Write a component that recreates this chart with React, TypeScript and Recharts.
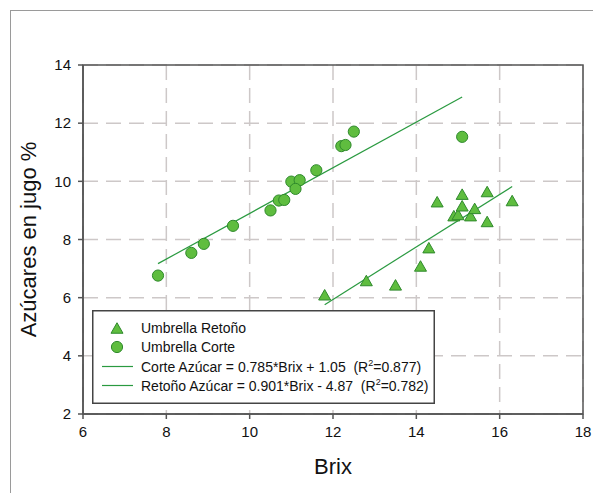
import React from 'react'
import {
  ScatterChart, Scatter, XAxis, YAxis, CartesianGrid, ReferenceLine, ReferenceArea, Legend,
} from 'recharts'

// Umbrella Corte (circles)
const corteBrix = [7.8, 8.6, 8.9, 9.6, 10.5, 10.7, 10.83, 11.0, 11.2, 11.1, 11.6, 12.2, 12.3, 12.5, 15.1]
const corteAzucar = [6.76, 7.54, 7.85, 8.47, 9.0, 9.34, 9.36, 9.99, 10.04, 9.74, 10.38, 11.21, 11.25, 11.71, 11.53]

// Umbrella Retoño (triangles)
const retonoBrix = [11.8, 12.8, 13.5, 14.1, 14.3, 14.5, 14.9, 15.0, 15.1, 15.1, 15.3, 15.4, 15.7, 15.7, 16.3]
const retonoAzucar = [6.1, 6.59, 6.44, 7.09, 7.72, 9.3, 8.82, 8.86, 9.56, 9.16, 8.82, 9.07, 9.65, 8.62, 9.34]

// regression line end points (from the equations in the legend)
const corteFit = [{ x: 7.8, y: 7.17 }, { x: 15.1, y: 12.9 }]
const retonoFit = [{ x: 11.8, y: 5.76 }, { x: 16.3, y: 9.82 }]

const xTicks = [6, 8, 10, 12, 14, 16, 18]
const yTicks = [2, 4, 6, 8, 10, 12, 14]

const corteData = corteBrix.map((x, i) => ({ x, y: corteAzucar[i] }))
const retonoData = retonoBrix.map((x, i) => ({ x, y: retonoAzucar[i] }))

const FONT = '"Liberation Sans", Arial, sans-serif'
const FILL = '#5fbd3f'
const EDGE = '#2f8a2c'
const LINE = '#2a9a40'

const Circle = (props: any) => {
  const { cx, cy } = props
  return <circle cx={cx} cy={cy} r={5.6} fill={FILL} stroke={EDGE} strokeWidth={1} />
}

const Triangle = (props: any) => {
  const { cx, cy } = props
  const w = 12, h = 10.5
  return (
    <polygon
      points={`${cx},${cy - h / 2} ${cx + w / 2},${cy + h / 2} ${cx - w / 2},${cy + h / 2}`}
      fill={FILL}
      stroke={EDGE}
      strokeWidth={1}
      strokeLinejoin="round"
    />
  )
}

const LegendBox = () => {
  const rows = [18, 37, 56.5, 75.5]
  return (
    <svg width={343} height={94} style={{ display: 'block' }}>
      <rect x={0.75} y={0.75} width={341.5} height={92.5} fill="#fff" stroke="#444" strokeWidth={1.5} />
      <Triangle cx={25} cy={rows[0]} />
      <Circle cx={25} cy={rows[1]} />
      <line x1={10} x2={41} y1={rows[2]} y2={rows[2]} stroke={LINE} strokeWidth={1.2} />
      <line x1={10} x2={41} y1={rows[3]} y2={rows[3]} stroke={LINE} strokeWidth={1.2} />
      <g fontFamily={FONT} fontSize={14} fill="#111">
        <text x={49} y={rows[0] + 5}>Umbrella Retoño</text>
        <text x={49} y={rows[1] + 5}>Umbrella Corte</text>
        <text x={49} y={rows[2] + 5} xmlSpace="preserve">
          Corte Azúcar = 0.785*Brix + 1.05  (R<tspan fontSize={9} dy={-6}>2</tspan><tspan dy={6}>=0.877)</tspan>
        </text>
        <text x={49} y={rows[3] + 5} xmlSpace="preserve">
          Retoño Azúcar = 0.901*Brix - 4.87  (R<tspan fontSize={9} dy={-6}>2</tspan><tspan dy={6}>=0.782)</tspan>
        </text>
      </g>
    </svg>
  )
}

const YTitle = (props: any) => {
  const { viewBox } = props
  const x = viewBox.x + 13
  const y = viewBox.y + viewBox.height / 2
  return (
    <text
      x={x}
      y={y}
      transform={`rotate(-90, ${x}, ${y})`}
      textAnchor="middle"
      fontFamily={FONT}
      fontSize={22}
      fill="#111"
    >
      Azúcares en jugo %
    </text>
  )
}

const App: React.FC = () => {
  return (
    <div style={{ position: 'absolute', left: 0, top: 0, width: 593, height: 493, background: '#fff' }}>
      {/* outer frame of the figure */}
      <div
        style={{
          position: 'absolute', left: 10, top: 10, width: 600, height: 500,
          borderLeft: '1.5px solid #9a9a9a', borderTop: '1.5px solid #9a9a9a',
        }}
      />
      <ScatterChart width={593} height={493} margin={{ top: 65, right: 10, bottom: 49, left: 23 }}>
        <CartesianGrid stroke="#cdc8c8" strokeWidth={1.5} strokeDasharray="15 8" />
        <XAxis
          type="number"
          dataKey="x"
          domain={[6, 18]}
          ticks={xTicks}
          height={30}
          stroke="#555"
          strokeWidth={1.5}
          tickSize={5}
          tickMargin={7}
          tick={{ fill: '#111', fontSize: 15, fontFamily: FONT }}
          label={{ value: 'Brix', position: 'bottom', offset: 14, style: { fontSize: 22, fontFamily: FONT, fill: '#111' } }}
          allowDataOverflow
        />
        <YAxis
          type="number"
          dataKey="y"
          domain={[2, 14]}
          ticks={yTicks}
          width={60}
          stroke="#555"
          strokeWidth={1.5}
          tickSize={5}
          tickMargin={7}
          tick={{ fill: '#111', fontSize: 15, fontFamily: FONT }}
          label={{ content: <YTitle /> }}
          allowDataOverflow
        />
        <ReferenceArea x1={6} x2={18} y1={2} y2={14} fill="none" stroke="#555" strokeWidth={1.5} />
        <ReferenceLine segment={corteFit} stroke={LINE} strokeWidth={1.2} />
        <ReferenceLine segment={retonoFit} stroke={LINE} strokeWidth={1.2} />
        <Scatter name="Umbrella Corte" data={corteData} shape={<Circle />} isAnimationActive={false} />
        <Scatter name="Umbrella Retoño" data={retonoData} shape={<Triangle />} isAnimationActive={false} />
        <Legend
          layout="horizontal"
          verticalAlign="middle"
          align="center"
          content={<LegendBox />}
          wrapperStyle={{ left: 92, top: 310, width: 343, height: 94 }}
        />
      </ScatterChart>
    </div>
  )
}

export default App
